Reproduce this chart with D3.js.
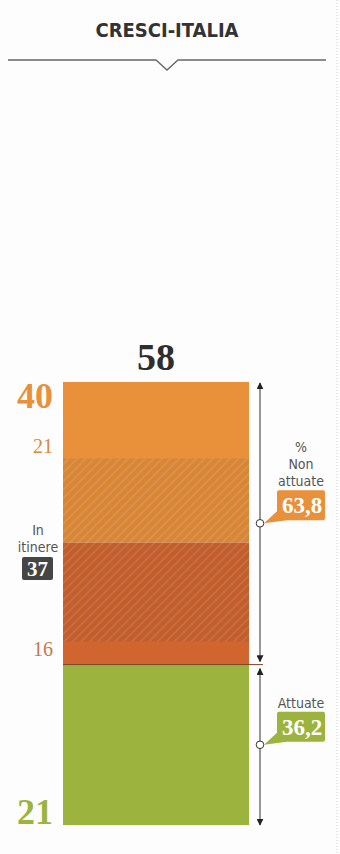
<!DOCTYPE html>
<html>
<head>
<meta charset="utf-8">
<script src="https://cdn.jsdelivr.net/npm/d3@7"></script>
<style>
  body { margin: 0; background: #fdfdfd; }
</style>
</head>
<body>
<div id="chart-area"></div>
<script>
// dati
const title = "CRESCI-ITALIA";
const category = ["Cresci-Italia"];
const segKeys = ["attuate", "nonAttuate16", "nonAttuate21"];   // dal basso verso l'alto
const segValues = [21, 16, 21];
const total = 58;
const topValue = 40;
const inItinere = 37;
const inItinereSpan = [24, 48];   // tratto tratteggiato, stimato
const groupNames = ["Non attuate", "Attuate"];
const groupValues = [37, 21];

const segColors = ["#9cb43e", "#d0652f", "#e8903a"];
const segLabelColors = ["#9cb43e", "#c9774d", "#d9893f"];

const W = 340, H = 854;

const svg = d3.select("#chart-area").append("svg")
  .attr("width", W)
  .attr("height", H)
  .style("font-family", "'DejaVu Sans Condensed', 'DejaVu Sans', sans-serif");

const x = d3.scaleBand().domain(category).range([63, 249]);
const y = d3.scaleLinear().domain([0, total]).range([825, 382]);

const it = d3.formatLocale({decimal: ",", thousands: ".", grouping: [3], currency: ["", "€"]});
const pct = it.format(".1f");

// bordo punteggiato a destra
svg.append("line")
  .attr("x1", 337).attr("x2", 337).attr("y1", 0).attr("y2", H)
  .attr("stroke", "#cfcfcf").attr("stroke-dasharray", "1,2");

// titolo
svg.append("text")
  .attr("x", 167).attr("y", 37)
  .attr("text-anchor", "middle")
  .attr("font-size", 20).attr("font-weight", "bold")
  .attr("fill", "#333")
  .text(title);

svg.append("path")
  .attr("d", "M8,60H156L167,70L178,60H326")
  .attr("fill", "none").attr("stroke", "#666").attr("stroke-width", 1.3);

// pattern tratteggio
const defs = svg.append("defs");
const pat = defs.append("pattern")
  .attr("id", "hatch")
  .attr("patternUnits", "userSpaceOnUse")
  .attr("width", 6).attr("height", 6)
  .attr("patternTransform", "rotate(45)");
pat.append("rect").attr("width", 6).attr("height", 6).attr("fill", "#000").attr("opacity", 0.07);
pat.append("rect").attr("width", 2).attr("height", 6).attr("fill", "#fff").attr("opacity", 0.09);

// segmenti
const ends = d3.cumsum(segValues);
const starts = ends.map((e, i) => e - segValues[i]);

svg.append("g").selectAll("rect")
  .data(segValues).enter().append("rect")
  .attr("x", x(category[0]))
  .attr("width", x.bandwidth())
  .attr("y", (d, i) => y(ends[i]))
  .attr("height", (d, i) => y(starts[i]) - y(ends[i]))
  .attr("fill", (d, i) => segColors[i]);

// in itinere
svg.append("rect")
  .attr("x", x(category[0]))
  .attr("width", x.bandwidth())
  .attr("y", y(inItinereSpan[1]))
  .attr("height", y(inItinereSpan[0]) - y(inItinereSpan[1]))
  .attr("fill", "url(#hatch)");

// linea di separazione attuate / non attuate
svg.append("line")
  .attr("x1", x(category[0])).attr("x2", 263)
  .attr("y1", y(segValues[0])).attr("y2", y(segValues[0]))
  .attr("stroke", "#7a4328").attr("stroke-width", 1);

// numeri sopra e a sinistra
const serif = "'Liberation Serif', 'DejaVu Serif', serif";
svg.append("text")
  .attr("x", x(category[0]) + x.bandwidth() / 2).attr("y", y(total) - 12)
  .attr("text-anchor", "middle")
  .attr("font-family", serif).attr("font-weight", "bold").attr("font-size", 38)
  .attr("fill", "#2e2e2e")
  .text(total);

svg.append("text")
  .attr("x", 53).attr("y", y(total) + 26)
  .attr("text-anchor", "end")
  .attr("font-family", serif).attr("font-weight", "bold").attr("font-size", 36)
  .attr("fill", segColors[2])
  .text(topValue);

svg.append("text")
  .attr("x", 53).attr("y", y(total) + 71)
  .attr("text-anchor", "end")
  .attr("font-family", serif).attr("font-size", 20)
  .attr("fill", segLabelColors[2])
  .text(segValues[2]);

svg.append("text")
  .attr("x", 53).attr("y", y(segValues[0]) - 9)
  .attr("text-anchor", "end")
  .attr("font-family", serif).attr("font-size", 20)
  .attr("fill", segLabelColors[1])
  .text(segValues[1]);

svg.append("text")
  .attr("x", 53).attr("y", y(0) - 1)
  .attr("text-anchor", "end")
  .attr("font-family", serif).attr("font-weight", "bold").attr("font-size", 36)
  .attr("fill", segLabelColors[0])
  .text(segValues[0]);

// etichetta in itinere
const itY = (y(inItinereSpan[0]) + y(inItinereSpan[1])) / 2;
svg.append("text").attr("x", 38).attr("y", itY - 15)
  .attr("text-anchor", "middle").attr("font-size", 14).attr("fill", "#555").text("In");
svg.append("text").attr("x", 38).attr("y", itY + 2)
  .attr("text-anchor", "middle").attr("font-size", 14).attr("fill", "#555").text("itinere");
svg.append("rect").attr("x", 22).attr("y", itY + 7).attr("width", 31).attr("height", 23)
  .attr("rx", 2).attr("fill", "#454545");
svg.append("text").attr("x", 37.5).attr("y", itY + 26)
  .attr("text-anchor", "middle")
  .attr("font-family", serif).attr("font-weight", "bold").attr("font-size", 21)
  .attr("fill", "#fff").text(inItinere);

// frecce a destra
const ax = 260;
defs.append("marker").attr("id", "tip")
  .attr("viewBox", "0 0 10 10").attr("refX", 9).attr("refY", 5)
  .attr("markerWidth", 7).attr("markerHeight", 7)
  .attr("markerUnits", "userSpaceOnUse")
  .attr("orient", "auto-start-reverse")
  .append("path").attr("d", "M0,0L10,5L0,10Z").attr("fill", "#222");

const groups = [
  {name: groupNames[0], v: groupValues[0], top: total, bot: segValues[0], lines: ["%", "Non", "attuate"], color: segColors[2]},
  {name: groupNames[1], v: groupValues[1], top: segValues[0], bot: 0, lines: ["Attuate"], color: segColors[0]}
];

groups.forEach((g, i) => {
  const y1 = y(g.top) + (i === 0 ? 1 : 4);
  const y2 = y(g.bot) - (i === 0 ? 3 : 0);
  svg.append("line")
    .attr("x1", ax).attr("x2", ax).attr("y1", y1).attr("y2", y2)
    .attr("stroke", "#333").attr("stroke-width", 1)
    .attr("marker-start", "url(#tip)").attr("marker-end", "url(#tip)");

  const cy = (y(g.top) + y(g.bot)) / 2;
  const bw = 48, bh = 30, bx = 277, by = cy - 3 - bh;

  svg.append("path")
    .attr("d", `M${bx + 2},${by}H${bx + bw - 2}Q${bx + bw},${by} ${bx + bw},${by + 2}V${by + bh - 2}Q${bx + bw},${by + bh} ${bx + bw - 2},${by + bh}H${bx + 10}L${ax + 4},${cy}L${bx},${by + bh - 9}V${by + 2}Q${bx},${by} ${bx + 2},${by}Z`)
    .attr("fill", g.color);

  svg.append("circle")
    .attr("cx", ax).attr("cy", cy).attr("r", 3.8)
    .attr("fill", "#fff").attr("stroke", "#333").attr("stroke-width", 1);

  svg.append("text")
    .attr("x", bx + bw / 2 + 1).attr("y", by + bh - 7)
    .attr("text-anchor", "middle")
    .attr("font-family", serif).attr("font-weight", "bold").attr("font-size", 23)
    .attr("fill", "#fff")
    .text(pct(g.v / total * 100));

  g.lines.slice().reverse().forEach((t, j) => {
    svg.append("text")
      .attr("x", 301).attr("y", by - 4 - j * 17)
      .attr("text-anchor", "middle")
      .attr("font-size", 14).attr("fill", "#555")
      .text(t);
  });
});
</script>
</body>
</html>
